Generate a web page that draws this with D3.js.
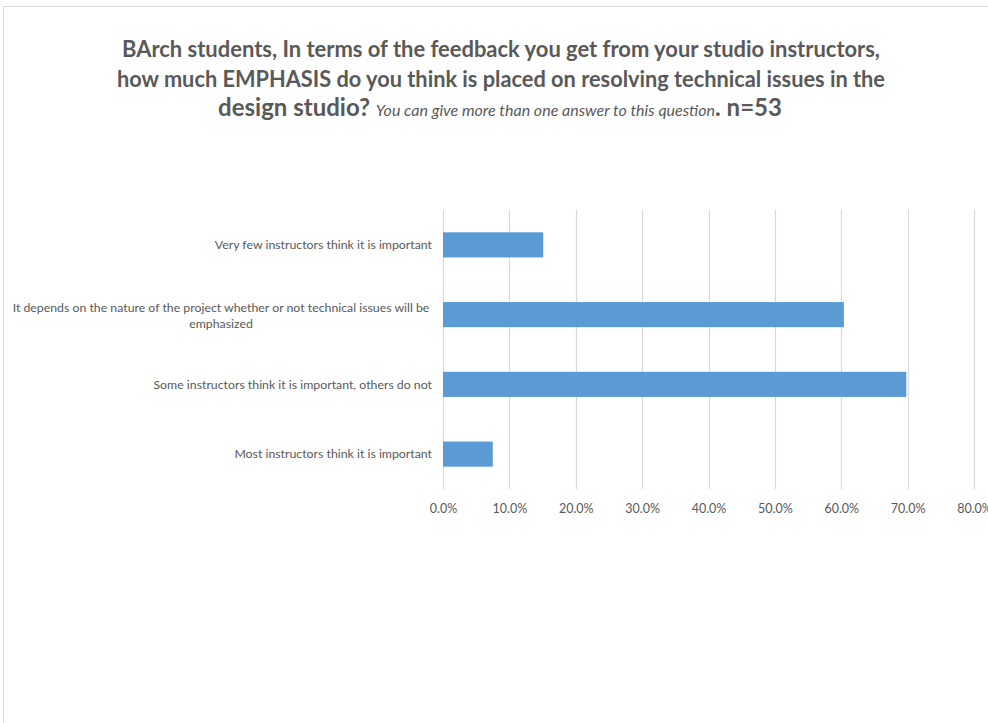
<!DOCTYPE html>
<html>
<head>
<meta charset="utf-8">
<script src="https://cdn.jsdelivr.net/npm/d3@7"></script>
<style>
  html, body { margin: 0; padding: 0; background: #fff; }
  svg { display: block; }
</style>
</head>
<body>
<svg id="chart" width="988" height="723"></svg>
<script>
const categories = [
  "Very few instructors think it is important",
  "It depends on the nature of the project whether or not technical issues will be emphasized",
  "Some instructors think it is important, others do not",
  "Most instructors think it is important"
];
const labelLines = [
  ["Very few instructors think it is important"],
  ["It depends on the nature of the project whether or not technical issues will be", "emphasized"],
  ["Some instructors think it is important, others do not"],
  ["Most instructors think it is important"]
];
const values = [0.151, 0.604, 0.698, 0.075];
const tickValues = [0, 0.1, 0.2, 0.3, 0.4, 0.5, 0.6, 0.7, 0.8];

const font = "Lato, 'Open Sans', sans-serif";
const svg = d3.select("#chart");

// outer chart frame
svg.append("rect")
  .attr("x", 3.5).attr("y", 6.5).attr("width", 1000).attr("height", 800)
  .attr("fill", "none").attr("stroke", "#d9d9d9").attr("stroke-width", 1);

const x = d3.scaleLinear().domain([0, 0.8]).range([443, 974]);
const y = d3.scaleBand().domain(categories).range([210, 489]).paddingInner(0.64).paddingOuter(0.32);

// gridlines
svg.append("g").selectAll("line").data(tickValues).join("line")
  .attr("x1", d => Math.round(x(d)) + 0.5).attr("x2", d => Math.round(x(d)) + 0.5)
  .attr("y1", 210).attr("y2", 489)
  .attr("stroke", "#d9d9d9").attr("stroke-width", 1.2);

// bars
svg.append("g").selectAll("rect").data(values).join("rect")
  .attr("x", x(0)).attr("y", (d, i) => y(categories[i]))
  .attr("width", d => x(d) - x(0)).attr("height", y.bandwidth())
  .attr("fill", "#5b9bd5");

// x tick labels
const xAxis = d3.axisBottom(x).tickValues(tickValues).tickFormat(d3.format(".1%")).tickSize(0).tickPadding(0);
const gx = svg.append("g").attr("transform", "translate(0,504)").call(xAxis);
gx.select(".domain").remove();
gx.selectAll("text").attr("font-family", font).attr("font-size", 12.5).attr("fill", "#595959").attr("dy", "0.71em");

// category labels
const gl = svg.append("g");
labelLines.forEach((lines, i) => {
  const cy = y(categories[i]) + y.bandwidth() / 2;
  const t = gl.append("text")
    .attr("font-family", font).attr("font-size", 12.3).attr("fill", "#595959");
  if (lines.length === 1) {
    t.attr("x", 432).attr("y", cy).attr("dy", "0.35em").attr("text-anchor", "end").text(lines[0]);
  } else {
    t.attr("text-anchor", "middle");
    lines.forEach((ln, j) => {
      t.append("tspan").attr("x", 221).attr("y", cy - 7 + j * 16).attr("dy", "0.35em").text(ln);
    });
  }
});

// title
const title = svg.append("g").attr("font-family", font).attr("fill", "#595959").attr("text-anchor", "middle");
title.append("text").attr("x", 501).attr("y", 57).attr("font-size", 23).attr("font-weight", "bold")
  .attr("textLength", 758).attr("lengthAdjust", "spacingAndGlyphs")
  .text("BArch students, In terms of the feedback you get from your studio instructors,");
title.append("text").attr("x", 501).attr("y", 87).attr("font-size", 23).attr("font-weight", "bold")
  .attr("textLength", 768).attr("lengthAdjust", "spacingAndGlyphs")
  .text("how much EMPHASIS do you think is placed on resolving technical issues in the");
const t3 = title.append("text").attr("x", 500).attr("y", 116);
t3.append("tspan").attr("font-size", 24).attr("font-weight", "bold").text("design studio? ");
t3.append("tspan").attr("font-size", 16).attr("font-style", "italic").text("You can give more than one answer to this question");
t3.append("tspan").attr("font-size", 24).attr("font-weight", "bold").text(". n=53");
</script>
</body>
</html>
